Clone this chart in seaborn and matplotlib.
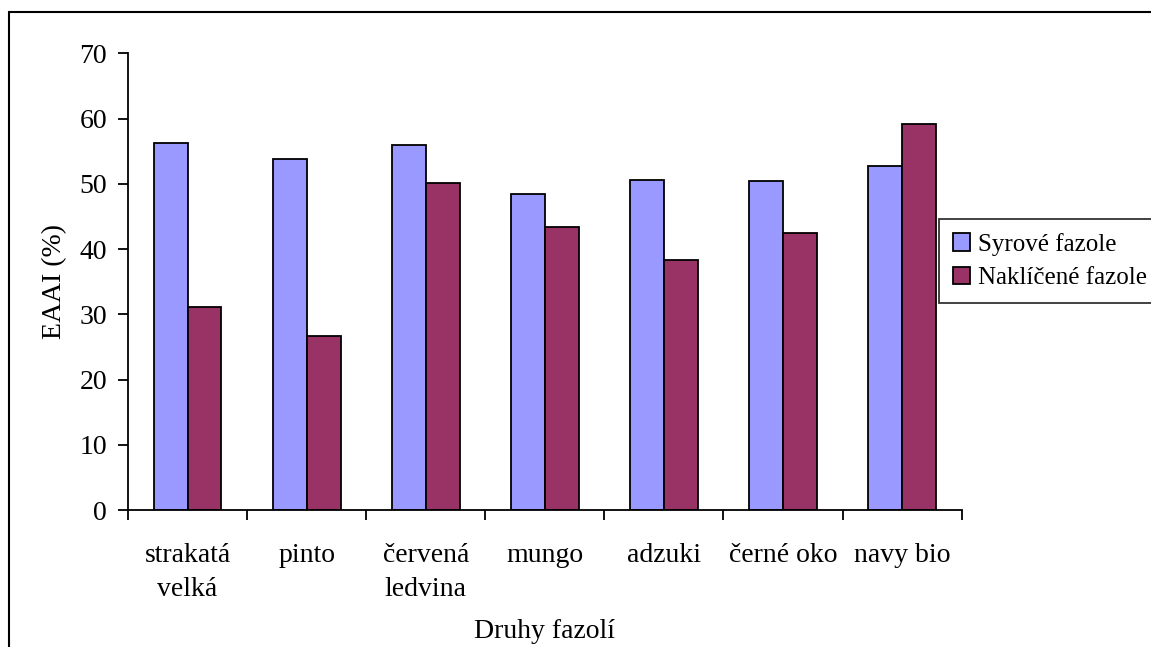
import pandas as pd
import matplotlib.pyplot as plt
import seaborn as sns
from matplotlib.patches import Rectangle

# Data
druhy = ['strakatá\nvelká', 'pinto', 'červená\nledvina', 'mungo', 'adzuki', 'černé oko', 'navy bio']
syrove = [56.2, 53.8, 55.9, 48.5, 50.6, 50.4, 52.7]
naklicene = [31.1, 26.7, 50.1, 43.3, 38.3, 42.5, 59.2]
serie = ['Syrové fazole', 'Naklíčené fazole']
barvy = ['#9999FF', '#993366']
y_ticks = [0, 10, 20, 30, 40, 50, 60, 70]


def main():
    sns.set_style('white')
    plt.rcParams['font.family'] = ['Liberation Serif', 'DejaVu Serif']
    plt.rcParams.update({'text.color': 'black', 'axes.labelcolor': 'black',
                         'xtick.color': 'black', 'ytick.color': 'black'})

    df = pd.DataFrame({
        'druh': druhy * 2,
        'EAAI': syrove + naklicene,
        'serie': [serie[0]] * len(druhy) + [serie[1]] * len(druhy),
    })

    fig = plt.figure(figsize=(11.51, 6.47), dpi=100)
    ax = fig.add_axes([128 / 1151, 1 - 510 / 647, (961.7 - 128) / 1151, (510 - 53.3) / 647])

    sns.barplot(data=df, x='druh', y='EAAI', hue='serie', order=druhy,
                hue_order=serie, palette=barvy, width=0.57, gap=0,
                edgecolor='black', linewidth=1.3, saturation=1, ax=ax)

    ax.set_xlim(-0.5, len(druhy) - 0.5)
    ax.set_ylim(0, 70)
    ax.set_yticks(y_ticks)
    ax.tick_params(axis='y', direction='out', length=7, width=1.3, labelsize=20,
                   pad=8, left=True)

    # labels at group centres, ticks at group boundaries
    ax.set_xticks(range(len(druhy)))
    ax.set_xticklabels(druhy, fontsize=20, linespacing=1.45)
    ax.tick_params(axis='x', which='major', length=0, pad=24)
    ax.set_xticks([i - 0.5 for i in range(len(druhy) + 1)], minor=True)
    ax.tick_params(axis='x', which='minor', direction='out', length=7, width=1.3,
                   bottom=True)

    sns.despine(ax=ax, top=True, right=True)
    for s in ('left', 'bottom'):
        ax.spines[s].set_color('black')
        ax.spines[s].set_linewidth(1.3)

    ax.set_xlabel('Druhy fazolí', fontsize=20, labelpad=12)
    ax.set_ylabel('EAAI (%)', fontsize=20, labelpad=9)

    leg = ax.legend(loc='upper left', bbox_to_anchor=((939 - 128) / 833.7, (510 - 219) / 456.7),
                    fontsize=18, frameon=True, fancybox=False, edgecolor='black',
                    handlelength=0.7, handleheight=0.7, handletextpad=0.3,
                    labelspacing=0.45, borderpad=0.55, borderaxespad=0)
    leg.get_frame().set_linewidth(1.3)

    # outer chart border (cut off on the right and bottom)
    fig.patches.append(Rectangle((9 / 1151, -0.1), 1.2, 1.1 - 12 / 647,
                                 transform=fig.transFigure, fill=False,
                                 edgecolor='black', linewidth=1.5))

    fig.savefig('out.png', dpi=100)


if __name__ == "__main__":
    main()
